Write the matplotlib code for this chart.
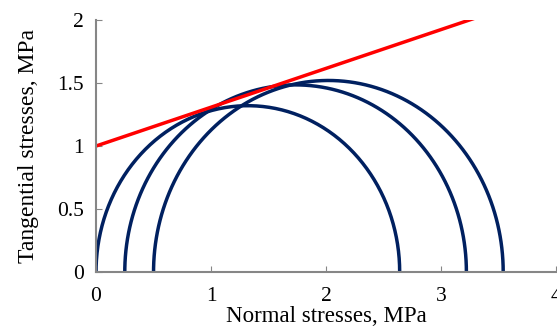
import numpy as np
import matplotlib.pyplot as plt

plt.rcParams['font.family'] = ['Liberation Serif', 'DejaVu Serif']

# Mohr circles: minor and major principal stresses, MPa
sigma3 = [0.0, 0.25, 0.5]
sigma1 = [2.64, 3.22, 3.54]

# strength envelope tau = c + tan(phi) * sigma
cohesion = 1.0
tan_phi = 0.308
env_x = [0, 4]

fig = plt.figure(figsize=(5.57, 3.33), dpi=100)
ax = fig.add_axes([0.1724, 0.183, 0.826, 0.757])

theta = np.linspace(0, np.pi, 300)
for s3, s1 in zip(sigma3, sigma1):
    c = (s1 + s3) / 2
    r = (s1 - s3) / 2
    ax.plot(c + r * np.cos(theta), r * np.sin(theta), color='#002060', lw=2.5)

ex = np.array(env_x, dtype=float)
ax.plot(ex, cohesion + tan_phi * ex, color='#ff0000', lw=2.5)

ax.set_xlim(0, 4)
ax.set_ylim(0, 2)
ax.set_xticks([0, 1, 2, 3, 4])
ax.set_yticks([0, 0.5, 1, 1.5, 2])
ax.set_xticklabels(['0', '1', '2', '3', '4'])
ax.set_yticklabels(['0', '0.5', '1', '1.5', '2'])
ax.tick_params(direction='in', length=4, color='#868686', labelsize=15.5)
ax.tick_params(axis='x', pad=11)
ax.tick_params(axis='y', pad=9)
for s in ['top', 'right']:
    ax.spines[s].set_visible(False)
for s in ['left', 'bottom']:
    ax.spines[s].set_color('#868686')
    ax.spines[s].set_linewidth(1.5)

ax.set_xlabel('Normal stresses, MPa', fontsize=16.5, labelpad=0)
ax.set_ylabel('Tangential stresses, MPa', fontsize=17, labelpad=13)

fig.savefig('out.png', dpi=100)
